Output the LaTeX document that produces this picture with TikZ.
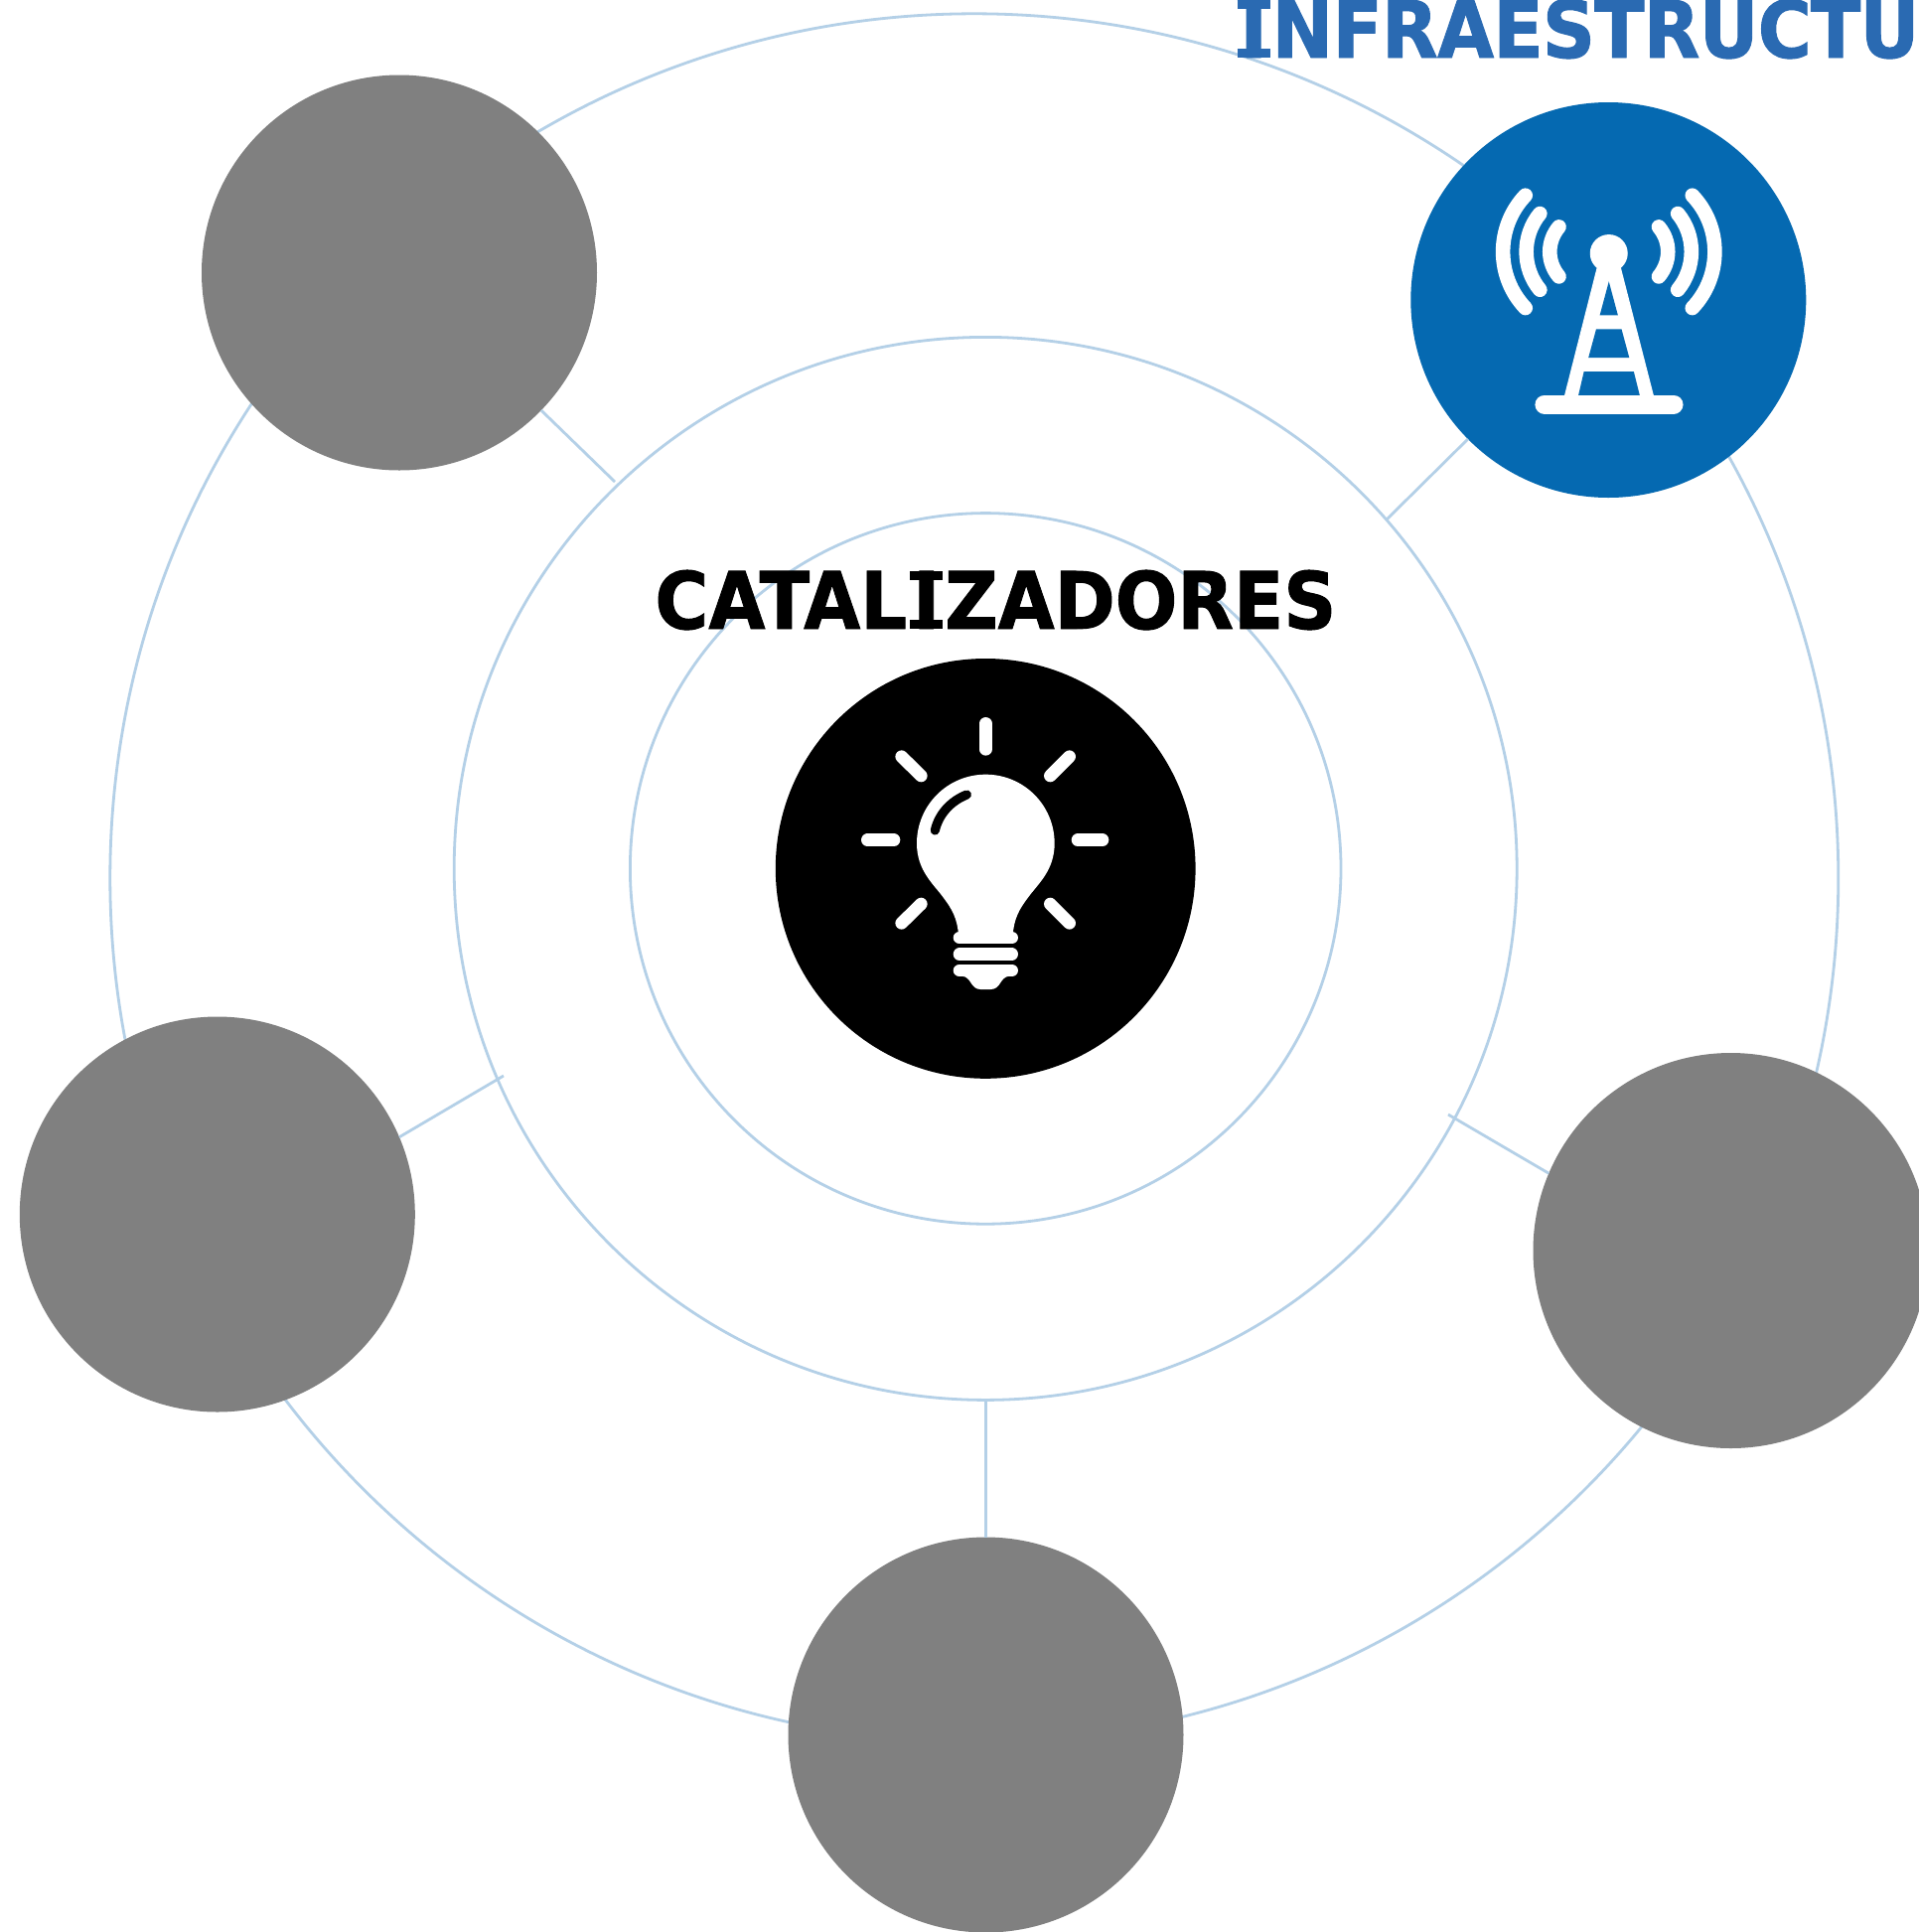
\documentclass[tikz,border=0pt]{standalone}
\usepackage{fontspec}
\setmainfont{DejaVu Sans}
\newfontfamily\titlefont[BoldFeatures={FakeStretch=0.925,FakeBold=1.2}]{DejaVu Sans}
\newfontfamily\infrafont[BoldFeatures={FakeStretch=0.925,FakeBold=1.2,LetterSpace=-0.9}]{DejaVu Sans}
\newcommand{\serifI}{\leavevmode\kern1.6pt\rlap{\rule{16.5pt}{4.6pt}}\rlap{\raisebox{24.4pt}{\rule{16.5pt}{4.6pt}}}\hbox to 16.5pt{\hss I\hss}\kern1pt}
\definecolor{ringblue}{HTML}{B4D0E7}
\definecolor{discblue}{HTML}{0569B1}
\definecolor{titleblue}{HTML}{2A6AB2}
\definecolor{discgray}{HTML}{808080}
\tikzset{
  ring/.style={circle,draw=ringblue,line width=1.4pt,inner sep=0pt,outer sep=0pt,minimum size=#1},
  disc/.style={circle,fill=#1,inner sep=0pt,outer sep=0pt,minimum size=199pt},
  link/.style={draw=ringblue,line width=1.4pt},
  title/.style={anchor=base west,inner sep=0pt,font=\fontsize{39.8pt}{48pt}\titlefont\bfseries},
  infratitle/.style={anchor=base west,inner sep=0pt,font=\fontsize{39.8pt}{48pt}\infrafont\bfseries},
  glyphline/.style={draw=white,line cap=round,line width=#1}
}
\begin{document}
\begin{tikzpicture}[x=0.5pt,y=-0.5pt]
\useasboundingbox (0,0) rectangle (1932,1945);
\clip (0,0) rectangle (1932,1945);
\fill[white] (0,0) rectangle (1932,1945);
% rings
\node[ring=870pt] (outer) at (980.8,883.8) {};
\node[ring=535pt] (middle) at (992.2,874.4) {};
\node[ring=357.8pt] (inner) at (992.2,874.4) {};
% discs
\node[disc=discgray] (tl) at (402,274.5) {};
\node[disc=discgray] (lf) at (218.8,1222.5) {};
\node[disc=discgray] (rt) at (1742.5,1259) {};
\node[disc=discgray] (bt) at (992.5,1746.5) {};
\node[disc=discblue] (infra) at (1619.3,302) {};
\node[circle,fill=black,inner sep=0pt,outer sep=0pt,minimum size=211.4pt] (hub) at (992.2,874.4) {};
% free ends on the middle ring
\coordinate (tlend) at (619,485);
\coordinate (infraend) at (1396,523);
\coordinate (lfend) at (507,1083);
\coordinate (rtend) at (1458,1122);
\coordinate (btend) at (992.5,1409);
\draw[link] (tl) -- (tlend);
\draw[link] (infra) -- (infraend);
\draw[link] (lf.23) -- (lfend);
\draw[link] (rt.157) -- (rtend);
\draw[link] (bt) -- (btend);
% titles
\node[title,text=black] (cat) at (659,633) {CATAL\serifI ZADORES};
\node[infratitle,text=titleblue] (inf) at (1242,58) {\serifI NFRAESTRUCTU};
% tower icon
\begin{scope}[shift={(1219.3,0)},x=0.2283pt,y=-0.1667pt]
  \fill[white] (877,765) circle[radius=9.5pt];
  \fill[white] (852,800) -- (902,800) -- (977,1200) -- (778,1200) -- cycle;
  \fill[discblue] (877,850) -- (897,952) -- (857,952) -- cycle;
  \fill[discblue] (849,994) -- (905,994) -- (922,1080) -- (832,1080) -- cycle;
  \fill[discblue] (822,1122) -- (932,1122) -- (945,1193) -- (810,1193) -- cycle;
  \draw[glyphline=9.5pt] (735,1221) -- (1020,1221);
  \draw[glyphline=7.3pt] (693,590) .. controls (627,685) and (627,835) .. (693,930);
  \draw[glyphline=7.3pt] (725,645) .. controls (685,711) and (685,809) .. (725,875);
  \draw[glyphline=7.3pt] (767,685) .. controls (740,729) and (740,791) .. (767,835);
  \draw[glyphline=7.3pt] (1061,590) .. controls (1127,685) and (1127,835) .. (1061,930);
  \draw[glyphline=7.3pt] (1029,645) .. controls (1069,711) and (1069,809) .. (1029,875);
  \draw[glyphline=7.3pt] (987,685) .. controls (1014,729) and (1014,791) .. (987,835);
\end{scope}
% bulb icon
\begin{scope}[shift={(840,700)},x=0.16667pt,y=-0.16667pt]
  \draw[glyphline=6.3pt] (457,85) -- (457,163);
  \draw[glyphline=6.3pt] (100,437) -- (180,437);
  \draw[glyphline=6.3pt] (735,437) -- (810,437);
  \draw[glyphline=6.3pt] (203,185) -- (262,243);
  \draw[glyphline=6.3pt] (710,185) -- (652,243);
  \draw[glyphline=6.3pt] (262,630) -- (203,688);
  \draw[glyphline=6.3pt] (652,630) -- (710,688);
  \fill[white] (457,239) .. controls (342,239) and (249,332) .. (249,447)
    .. controls (249,530) and (300,570) .. (330,612)
    .. controls (355,645) and (372,675) .. (375,725) -- (539,725)
    .. controls (542,675) and (559,645) .. (584,612)
    .. controls (614,570) and (665,530) .. (665,447)
    .. controls (665,332) and (572,239) .. (457,239) -- cycle;
  \draw[glyphline=6.3pt] (378,732) -- (536,732);
  \draw[glyphline=6.3pt] (378,782) -- (536,782);
  \draw[glyphline=6.3pt] (378,831) -- (536,831);
  \fill[white] (385,848) .. controls (415,850) and (410,888) .. (442,888) -- (472,888)
    .. controls (504,888) and (499,850) .. (529,848) -- cycle;
  \draw[draw=black,line cap=round,line width=4.6pt] (400,300) .. controls (350,320) and (315,360) .. (304,408);
\end{scope}
\end{tikzpicture}
\end{document}
